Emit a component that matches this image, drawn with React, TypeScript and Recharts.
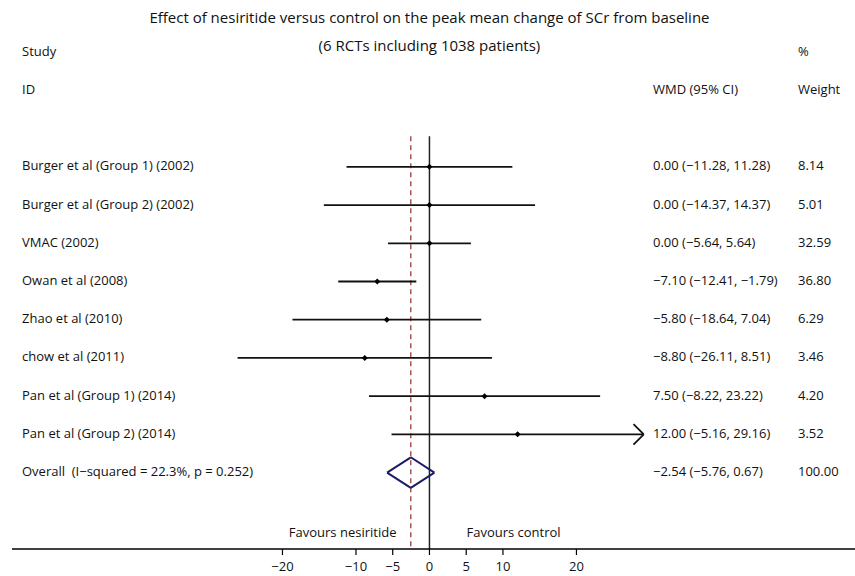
import { ComposedChart, XAxis, YAxis, Scatter, ReferenceLine } from 'recharts';

const studies = [
  'Burger et al (Group 1) (2002)',
  'Burger et al (Group 2) (2002)',
  'VMAC (2002)',
  'Owan et al (2008)',
  'Zhao et al (2010)',
  'chow et al (2011)',
  'Pan et al (Group 1) (2014)',
  'Pan et al (Group 2) (2014)',
];
const estimates = [0, 0, 0, -7.1, -5.8, -8.8, 7.5, 12.0];
const lowers = [-11.28, -14.37, -5.64, -12.41, -18.64, -26.11, -8.22, -5.16];
const uppers = [11.28, 14.37, 5.64, -1.79, 7.04, 8.51, 23.22, 29.16];
const weights = [8.14, 5.01, 32.59, 36.8, 6.29, 3.46, 4.2, 3.52];
const arrowRight = [false, false, false, false, false, false, false, true];

const overallLabel = 'Overall\u00a0 (I\u2212squared = 22.3%, p = 0.252)';
const overallEstimate = -2.54;
const overallLower = -5.76;
const overallUpper = 0.67;
const overallWeight = 100.0;

const xTicks = [-20, -10, -5, 0, 5, 10, 20];

const FONT = "'Open Sans', 'DejaVu Sans', sans-serif";
const NAVY = '#1b1b6b';
const DASH_RED = '#9a3a3a';

const fmt = (v: number) => v.toFixed(2).replace('-', '\u2212');

const studyRows = studies.map((name, i) => ({
  x: estimates[i],
  y: i + 1,
}));

const overallRow = studies.length + 1;

type TextRow = { x: number; y: number; kind: string; a?: string; b?: string; c?: string };

const textRows: TextRow[] = [
  { x: 0, y: -2.86, kind: 'title', a: 'Effect of nesiritide versus control on the peak mean change of SCr from baseline' },
  { x: 0, y: -2.13, kind: 'title', a: '(6 RCTs including 1038 patients)' },
  { x: 0, y: -2, kind: 'row', a: 'Study', c: '%' },
  { x: 0, y: -1, kind: 'row', a: 'ID', b: 'WMD (95% CI)', c: 'Weight' },
  ...studies.map((name, i) => ({
    x: 0,
    y: i + 1,
    kind: 'row',
    a: name,
    b: `${fmt(estimates[i])} (${fmt(lowers[i])}, ${fmt(uppers[i])})`,
    c: weights[i].toFixed(2),
  })),
  {
    x: 0,
    y: overallRow,
    kind: 'row',
    a: overallLabel,
    b: `${fmt(overallEstimate)} (${fmt(overallLower)}, ${fmt(overallUpper)})`,
    c: overallWeight.toFixed(2),
  },
  { x: 0, y: 10.6, kind: 'favours', a: 'Favours nesiritide', b: 'Favours control' },
];

const TextShape = (props: any) => {
  const { cx, cy, payload } = props;
  const common = { fontFamily: FONT, fill: '#111', dominantBaseline: 'middle' as const };
  if (payload.kind === 'title') {
    return (
      <text x={cx} y={cy} textAnchor="middle" fontSize={15} {...common}>
        {payload.a}
      </text>
    );
  }
  if (payload.kind === 'favours') {
    return (
      <g>
        <text x={cx - 33} y={cy} textAnchor="end" fontSize={13} {...common}>
          {payload.a}
        </text>
        <text x={cx + 37} y={cy} textAnchor="start" fontSize={13} {...common}>
          {payload.b}
        </text>
      </g>
    );
  }
  return (
    <g>
      {payload.a && (
        <text x={22} y={cy} fontSize={13} {...common}>
          {payload.a}
        </text>
      )}
      {payload.b && (
        <text x={653} y={cy} fontSize={13} {...common}>
          {payload.b}
        </text>
      )}
      {payload.c && (
        <text x={798} y={cy} fontSize={13} {...common}>
          {payload.c}
        </text>
      )}
    </g>
  );
};

const PointShape = (props: any) => {
  const { cx, cy } = props;
  const s = 3;
  return <path d={`M${cx - s},${cy}L${cx},${cy - s}L${cx + s},${cy}L${cx},${cy + s}Z`} fill="#000" />;
};

const App = () => {
  const diamondH = 0.4;
  const arrowDx = 1.4;
  const arrowDy = 0.27;
  return (
    <div style={{ position: 'absolute', left: 0, top: 0, width: 855, height: 576, background: '#fff' }}>
      <ComposedChart width={855} height={576} margin={{ top: 14, right: 0, bottom: 0, left: 12 }}>
        <XAxis
          type="number"
          dataKey="x"
          domain={[-56.8, 57.9]}
          ticks={xTicks}
          height={27}
          tickSize={6}
          tickMargin={7}
          axisLine={{ stroke: '#000', strokeWidth: 1.5 }}
          tickLine={{ stroke: '#000', strokeWidth: 1.2 }}
          tick={{ fill: '#111', fontSize: 13, fontFamily: FONT }}
          tickFormatter={(v: number) => String(v).replace('-', '\u2212')}
        />
        <YAxis type="number" dataKey="y" domain={[-3, 11]} reversed hide />

        <ReferenceLine
          segment={[{ x: 0, y: 0.2 }, { x: 0, y: 11 }]}
          stroke="#222"
          strokeWidth={1.5}
        />
        <ReferenceLine
          segment={[{ x: overallEstimate, y: 0.2 }, { x: overallEstimate, y: 11 }]}
          stroke={DASH_RED}
          strokeWidth={1.3}
          strokeDasharray="5 4"
        />

        {studies.map((name, i) => (
          <ReferenceLine
            key={`ci-${name}`}
            segment={[{ x: lowers[i], y: i + 1 }, { x: uppers[i], y: i + 1 }]}
            stroke="#111"
            strokeWidth={1.8}
          />
        ))}
        {studies.map((name, i) =>
          arrowRight[i] ? (
            <ReferenceLine
              key={`arrow-a-${name}`}
              segment={[{ x: uppers[i] - arrowDx, y: i + 1 - arrowDy }, { x: uppers[i], y: i + 1 }]}
              stroke="#111"
              strokeWidth={1.8}
            />
          ) : null
        )}
        {studies.map((name, i) =>
          arrowRight[i] ? (
            <ReferenceLine
              key={`arrow-b-${name}`}
              segment={[{ x: uppers[i] - arrowDx, y: i + 1 + arrowDy }, { x: uppers[i], y: i + 1 }]}
              stroke="#111"
              strokeWidth={1.8}
            />
          ) : null
        )}

        <ReferenceLine
          segment={[{ x: overallLower, y: overallRow }, { x: overallEstimate, y: overallRow - diamondH }]}
          stroke={NAVY}
          strokeWidth={2}
        />
        <ReferenceLine
          segment={[{ x: overallEstimate, y: overallRow - diamondH }, { x: overallUpper, y: overallRow }]}
          stroke={NAVY}
          strokeWidth={2}
        />
        <ReferenceLine
          segment={[{ x: overallUpper, y: overallRow }, { x: overallEstimate, y: overallRow + diamondH }]}
          stroke={NAVY}
          strokeWidth={2}
        />
        <ReferenceLine
          segment={[{ x: overallEstimate, y: overallRow + diamondH }, { x: overallLower, y: overallRow }]}
          stroke={NAVY}
          strokeWidth={2}
        />

        <Scatter data={studyRows} shape={PointShape} isAnimationActive={false} />
        <Scatter data={textRows} shape={TextShape} isAnimationActive={false} />
      </ComposedChart>
    </div>
  );
};

export default App;
